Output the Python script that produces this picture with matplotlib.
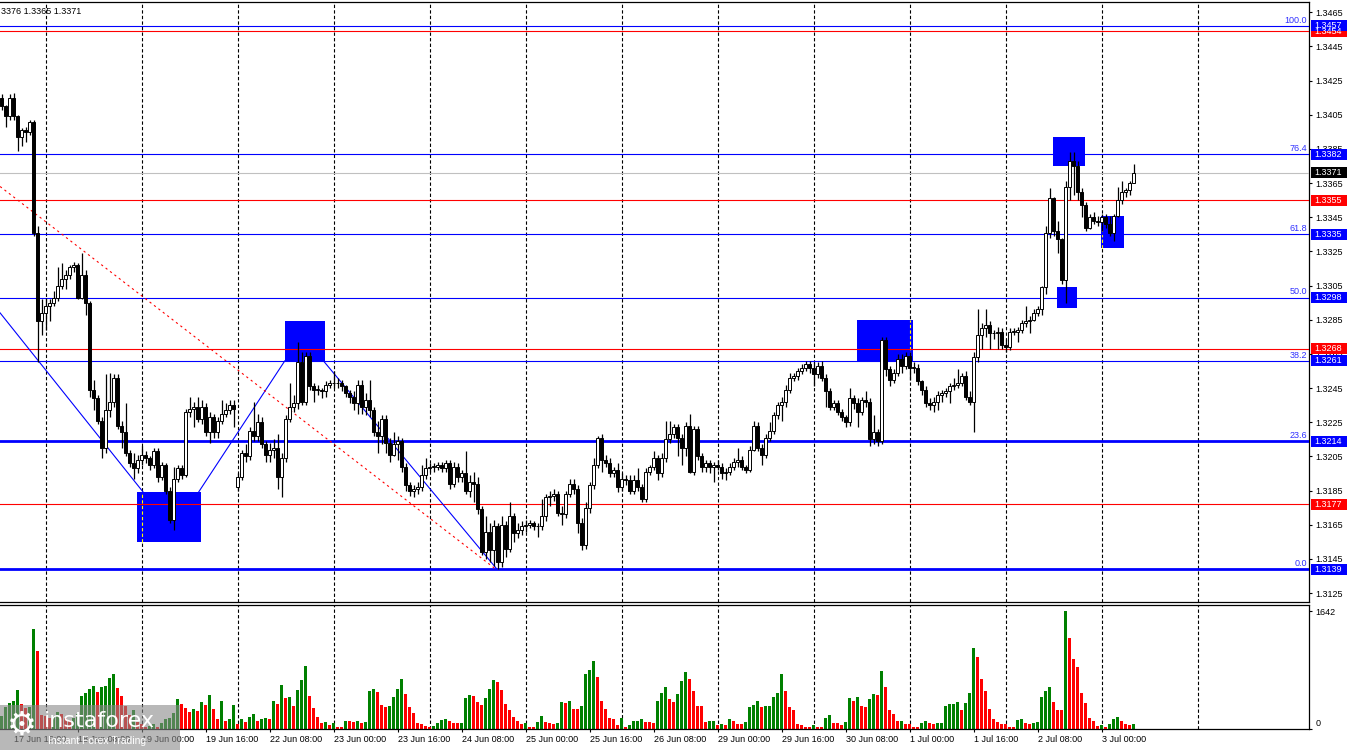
import numpy as np
import matplotlib.pyplot as plt
from matplotlib.patches import Rectangle

plt.rcParams['font.family'] = ['Liberation Sans', 'DejaVu Sans']

# GBP/USD H1, 17 Jun 13:00 .. 3 Jul 07:00 (one value per hourly candle)
first_open = 1.3415
monday_open = 1.3187   # 22 Jun weekend gap (candle 59)

close = [
    1.3410, 1.3404, 1.3415, 1.3404, 1.3392, 1.3396, 1.3395, 1.3401, 1.3336, 1.3284,
    1.3289, 1.3293, 1.3295, 1.3298, 1.3305, 1.3309, 1.3311, 1.3316, 1.3317, 1.3298,
    1.3311, 1.3295, 1.3244, 1.3239, 1.3226, 1.3210, 1.3232, 1.3237, 1.3251, 1.3223,
    1.3219, 1.3207, 1.3201, 1.3198, 1.3203, 1.3206, 1.3204, 1.3200, 1.3208, 1.3193,
    1.3200, 1.3185, 1.3168, 1.3192, 1.3198, 1.3194, 1.3231, 1.3233, 1.3234, 1.3227,
    1.3234, 1.3219, 1.3228, 1.3219, 1.3226, 1.3230, 1.3232, 1.3235, 1.3233, 1.3193,
    1.3207, 1.3205, 1.3220, 1.3217, 1.3225, 1.3212, 1.3206, 1.3209, 1.3210, 1.3193,
    1.3204, 1.3227, 1.3234, 1.3236, 1.3260, 1.3237, 1.3264, 1.3246, 1.3244, 1.3244,
    1.3243, 1.3247, 1.3248, 1.3248, 1.3248, 1.3246, 1.3242, 1.3240, 1.3236, 1.3247,
    1.3234, 1.3238, 1.3232, 1.3219, 1.3217, 1.3227, 1.3213, 1.3206, 1.3212, 1.3214,
    1.3199, 1.3188, 1.3185, 1.3186, 1.3187, 1.3194, 1.3198, 1.3199, 1.3199, 1.3200,
    1.3198, 1.3201, 1.3189, 1.3199, 1.3193, 1.3195, 1.3185, 1.3190, 1.3189, 1.3174,
    1.3149, 1.3161, 1.3150, 1.3164, 1.3143, 1.3165, 1.3151, 1.3170, 1.3160, 1.3162,
    1.3164, 1.3165, 1.3166, 1.3164, 1.3164, 1.3170, 1.3181, 1.3182, 1.3183, 1.3172,
    1.3171, 1.3183, 1.3189, 1.3186, 1.3166, 1.3153, 1.3175, 1.3188, 1.3200, 1.3216,
    1.3203, 1.3201, 1.3195, 1.3197, 1.3187, 1.3192, 1.3191, 1.3185, 1.3191, 1.3187,
    1.3180, 1.3196, 1.3199, 1.3204, 1.3195, 1.3204, 1.3215, 1.3218, 1.3222, 1.3216,
    1.3210, 1.3223, 1.3196, 1.3221, 1.3205, 1.3199, 1.3201, 1.3199, 1.3200, 1.3199,
    1.3195, 1.3196, 1.3199, 1.3202, 1.3203, 1.3199, 1.3197, 1.3209, 1.3223, 1.3210,
    1.3206, 1.3216, 1.3220, 1.3229, 1.3235, 1.3237, 1.3244, 1.3251, 1.3252, 1.3255,
    1.3257, 1.3259, 1.3257, 1.3253, 1.3258, 1.3251, 1.3243, 1.3234, 1.3236, 1.3231,
    1.3228, 1.3225, 1.3239, 1.3236, 1.3231, 1.3238, 1.3237, 1.3215, 1.3219, 1.3214,
    1.3273, 1.3256, 1.3250, 1.3254, 1.3262, 1.3258, 1.3264, 1.3257, 1.3257, 1.3249,
    1.3244, 1.3236, 1.3235, 1.3237, 1.3241, 1.3242, 1.3243, 1.3246, 1.3247, 1.3248,
    1.3252, 1.3240, 1.3237, 1.3263, 1.3276, 1.3280, 1.3282, 1.3277, 1.3277, 1.3278,
    1.3270, 1.3269, 1.3278, 1.3278, 1.3279, 1.3283, 1.3284, 1.3285, 1.3289, 1.3291,
    1.3304, 1.3336, 1.3356, 1.3337, 1.3332, 1.3308, 1.3363, 1.3378, 1.3375, 1.3360,
    1.3352, 1.3339, 1.3345, 1.3343, 1.3342, 1.3345, 1.3341, 1.3336, 1.3346, 1.3355,
    1.3360, 1.3361, 1.3365, 1.3371,
]

high = [
    1.3417, 1.3411, 1.3417, 1.3418, 1.3405, 1.3397, 1.3398, 1.3402, 1.3402, 1.3340,
    1.3297, 1.3298, 1.3297, 1.3302, 1.3316, 1.3318, 1.3314, 1.3317, 1.3319, 1.3318,
    1.3324, 1.3314, 1.3296, 1.3250, 1.3241, 1.3228, 1.3253, 1.3254, 1.3253, 1.3253,
    1.3226, 1.3236, 1.3209, 1.3207, 1.3206, 1.3211, 1.3208, 1.3205, 1.3210, 1.3210,
    1.3202, 1.3201, 1.3187, 1.3199, 1.3200, 1.3200, 1.3233, 1.3240, 1.3237, 1.3240,
    1.3238, 1.3236, 1.3231, 1.3230, 1.3228, 1.3238, 1.3236, 1.3238, 1.3238, 1.3195,
    1.3209, 1.3212, 1.3222, 1.3237, 1.3230, 1.3228, 1.3214, 1.3213, 1.3215, 1.3218,
    1.3207, 1.3229, 1.3248, 1.3241, 1.3272, 1.3266, 1.3266, 1.3266, 1.3248, 1.3247,
    1.3245, 1.3249, 1.3250, 1.3255, 1.3251, 1.3250, 1.3247, 1.3244, 1.3243, 1.3250,
    1.3250, 1.3242, 1.3250, 1.3234, 1.3226, 1.3229, 1.3229, 1.3216, 1.3219, 1.3217,
    1.3216, 1.3201, 1.3190, 1.3188, 1.3190, 1.3200, 1.3204, 1.3201, 1.3201, 1.3202,
    1.3202, 1.3203, 1.3203, 1.3202, 1.3201, 1.3197, 1.3208, 1.3194, 1.3196, 1.3193,
    1.3176, 1.3170, 1.3166, 1.3168, 1.3166, 1.3170, 1.3167, 1.3178, 1.3172, 1.3166,
    1.3167, 1.3168, 1.3168, 1.3167, 1.3166, 1.3180, 1.3183, 1.3185, 1.3186, 1.3185,
    1.3176, 1.3185, 1.3192, 1.3192, 1.3188, 1.3169, 1.3178, 1.3190, 1.3204, 1.3217,
    1.3218, 1.3206, 1.3204, 1.3199, 1.3201, 1.3195, 1.3194, 1.3194, 1.3194, 1.3198,
    1.3189, 1.3198, 1.3200, 1.3208, 1.3206, 1.3207, 1.3226, 1.3226, 1.3224, 1.3224,
    1.3218, 1.3225, 1.3230, 1.3223, 1.3223, 1.3207, 1.3203, 1.3203, 1.3202, 1.3203,
    1.3201, 1.3198, 1.3201, 1.3204, 1.3210, 1.3205, 1.3200, 1.3211, 1.3226, 1.3225,
    1.3212, 1.3218, 1.3225, 1.3231, 1.3237, 1.3240, 1.3247, 1.3254, 1.3254, 1.3257,
    1.3259, 1.3261, 1.3261, 1.3260, 1.3260, 1.3261, 1.3253, 1.3245, 1.3238, 1.3238,
    1.3233, 1.3229, 1.3245, 1.3241, 1.3239, 1.3240, 1.3243, 1.3239, 1.3229, 1.3221,
    1.3275, 1.3275, 1.3258, 1.3256, 1.3265, 1.3265, 1.3266, 1.3266, 1.3260, 1.3259,
    1.3250, 1.3246, 1.3239, 1.3240, 1.3243, 1.3244, 1.3245, 1.3248, 1.3251, 1.3256,
    1.3254, 1.3255, 1.3243, 1.3266, 1.3291, 1.3283, 1.3291, 1.3284, 1.3279, 1.3281,
    1.3280, 1.3274, 1.3280, 1.3280, 1.3281, 1.3285, 1.3293, 1.3287, 1.3291, 1.3293,
    1.3305, 1.3340, 1.3362, 1.3357, 1.3343, 1.3333, 1.3366, 1.3383, 1.3383, 1.3378,
    1.3362, 1.3354, 1.3347, 1.3348, 1.3346, 1.3347, 1.3347, 1.3346, 1.3347, 1.3363,
    1.3366, 1.3362, 1.3366, 1.3376,
]

low = [
    1.3408, 1.3398, 1.3402, 1.3402, 1.3384, 1.3387, 1.3389, 1.3393, 1.3334, 1.3260,
    1.3276, 1.3279, 1.3284, 1.3293, 1.3296, 1.3303, 1.3303, 1.3309, 1.3313, 1.3297,
    1.3297, 1.3288, 1.3240, 1.3232, 1.3224, 1.3204, 1.3207, 1.3228, 1.3234, 1.3221,
    1.3210, 1.3205, 1.3199, 1.3192, 1.3195, 1.3200, 1.3201, 1.3197, 1.3198, 1.3190,
    1.3191, 1.3183, 1.3166, 1.3162, 1.3190, 1.3192, 1.3193, 1.3228, 1.3222, 1.3225,
    1.3224, 1.3217, 1.3213, 1.3216, 1.3216, 1.3224, 1.3228, 1.3230, 1.3222, 1.3185,
    1.3191, 1.3202, 1.3203, 1.3214, 1.3214, 1.3210, 1.3202, 1.3202, 1.3204, 1.3186,
    1.3181, 1.3202, 1.3225, 1.3231, 1.3233, 1.3235, 1.3235, 1.3244, 1.3237, 1.3241,
    1.3239, 1.3240, 1.3245, 1.3245, 1.3245, 1.3243, 1.3240, 1.3236, 1.3232, 1.3230,
    1.3230, 1.3229, 1.3228, 1.3217, 1.3207, 1.3212, 1.3207, 1.3202, 1.3205, 1.3203,
    1.3196, 1.3185, 1.3182, 1.3181, 1.3183, 1.3185, 1.3192, 1.3196, 1.3196, 1.3197,
    1.3196, 1.3196, 1.3186, 1.3187, 1.3190, 1.3190, 1.3183, 1.3181, 1.3178, 1.3171,
    1.3147, 1.3145, 1.3143, 1.3141, 1.3139, 1.3140, 1.3146, 1.3149, 1.3155, 1.3157,
    1.3159, 1.3161, 1.3163, 1.3162, 1.3158, 1.3162, 1.3167, 1.3176, 1.3179, 1.3170,
    1.3165, 1.3169, 1.3181, 1.3183, 1.3160, 1.3150, 1.3151, 1.3172, 1.3186, 1.3198,
    1.3196, 1.3199, 1.3193, 1.3193, 1.3184, 1.3185, 1.3188, 1.3183, 1.3183, 1.3185,
    1.3178, 1.3178, 1.3194, 1.3197, 1.3191, 1.3193, 1.3202, 1.3213, 1.3216, 1.3205,
    1.3200, 1.3205, 1.3195, 1.3194, 1.3203, 1.3196, 1.3196, 1.3195, 1.3190, 1.3197,
    1.3192, 1.3191, 1.3194, 1.3197, 1.3199, 1.3197, 1.3195, 1.3196, 1.3208, 1.3208,
    1.3200, 1.3204, 1.3214, 1.3218, 1.3227, 1.3226, 1.3234, 1.3242, 1.3249, 1.3250,
    1.3253, 1.3255, 1.3254, 1.3246, 1.3251, 1.3249, 1.3234, 1.3232, 1.3232, 1.3229,
    1.3226, 1.3222, 1.3223, 1.3233, 1.3222, 1.3229, 1.3234, 1.3211, 1.3212, 1.3211,
    1.3212, 1.3252, 1.3246, 1.3248, 1.3252, 1.3254, 1.3256, 1.3250, 1.3254, 1.3247,
    1.3241, 1.3234, 1.3232, 1.3231, 1.3232, 1.3237, 1.3240, 1.3236, 1.3244, 1.3245,
    1.3246, 1.3238, 1.3235, 1.3219, 1.3260, 1.3268, 1.3275, 1.3268, 1.3274, 1.3268,
    1.3268, 1.3266, 1.3267, 1.3276, 1.3272, 1.3277, 1.3281, 1.3277, 1.3284, 1.3287,
    1.3288, 1.3300, 1.3333, 1.3334, 1.3324, 1.3306, 1.3295, 1.3355, 1.3358, 1.3355,
    1.3345, 1.3337, 1.3338, 1.3341, 1.3340, 1.3337, 1.3339, 1.3334, 1.3331, 1.3345,
    1.3353, 1.3357, 1.3358, 1.3365,
]

volume = [
    173, 296, 352, 389, 540, 343, 280, 300, 1386, 1080,
    187, 170, 140, 160, 230, 200, 150, 120, 150, 200,
    455, 493, 550, 596, 516, 586, 596, 705, 766, 564,
    455, 314, 187, 258, 89, 66, 19, 28, 66, 19,
    75, 136, 140, 211, 413, 343, 286, 229, 277, 249,
    376, 329, 470, 277, 127, 385, 103, 127, 329, 61,
    127, 89, 164, 197, 98, 127, 141, 136, 385, 343,
    611, 423, 446, 315, 540, 681, 869, 455, 282, 155,
    70, 89, 47, 70, 23, 14, 103, 100, 94, 98,
    80, 89, 531, 550, 513, 329, 305, 320, 446, 550,
    695, 484, 296, 211, 70, 61, 33, 14, 38, 80,
    119, 131, 108, 80, 70, 75, 423, 465, 455, 371,
    329, 423, 550, 681, 644, 540, 343, 258, 160, 103,
    61, 70, 19, 15, 89, 169, 89, 75, 61, 75,
    371, 352, 385, 272, 268, 315, 766, 822, 949, 724,
    390, 272, 146, 136, 47, 146, 14, 47, 103, 108,
    131, 89, 85, 75, 390, 498, 578, 413, 371, 484,
    667, 794, 695, 531, 315, 310, 89, 103, 108, 47,
    61, 47, 131, 103, 61, 56, 89, 301, 329, 385,
    301, 315, 320, 441, 503, 766, 531, 301, 258, 61,
    47, 19, 15, 47, 19, 15, 146, 188, 75, 70,
    47, 89, 428, 385, 441, 310, 296, 413, 484, 470,
    798, 578, 258, 202, 103, 108, 61, 56, 19, 15,
    75, 103, 80, 66, 75, 76, 315, 343, 345, 371,
    258, 357, 498, 1132, 1000, 695, 526, 272, 131, 89,
    61, 60, 19, 15, 113, 131, 75, 61, 75, 89,
    441, 526, 583, 371, 258, 255, 1642, 1264, 968, 855,
    503, 357, 146, 103, 33, 47, 19, 61, 131, 160,
    103, 61, 47, 61,
]

time_labels = ["17 Jun 16:00", "18 Jun 08:00", "19 Jun 00:00", "19 Jun 16:00",
               "22 Jun 08:00", "23 Jun 00:00", "23 Jun 16:00", "24 Jun 08:00",
               "25 Jun 00:00", "25 Jun 16:00", "26 Jun 08:00", "29 Jun 00:00",
               "29 Jun 16:00", "30 Jun 08:00", "1 Jul 00:00", "1 Jul 16:00",
               "2 Jul 08:00", "3 Jul 00:00"]

fib_levels = [1.3457, 1.3382, 1.3335, 1.3298, 1.3261, 1.3214, 1.3139]
fib_names = ["100.0", "76.4", "61.8", "50.0", "38.2", "23.6", "0.0"]
red_levels = [1.3454, 1.3355, 1.3268, 1.3177]
last_price = 1.3371

# zones: (first candle, last candle, price low, price high)
zones = [(33.9, 49.8, 1.3155, 1.3184), (70.8, 80.8, 1.3261, 1.3284),
         (213.9, 227.8, 1.3261, 1.3285), (262.9, 270.8, 1.3375, 1.3392),
         (263.8, 268.8, 1.3292, 1.3304), (274.8, 280.6, 1.3327, 1.3346)]
zigzag = [[(-0.4, 1.3289), (35.4, 1.3184)],
          [(49.2, 1.3184), (70.8, 1.3261)],
          [(80.4, 1.3261), (123.8, 1.3139)]]
channel = [(-0.4, 1.3363), (123.5, 1.3139)]

BLUE, RED = '#0000ff', '#ff0000'
FS = 6.5

n = len(close)
x = np.arange(n)
c = np.array(close)
o = np.array([first_open] + close[:-1])
o[59] = monday_open
h = np.maximum(np.array(high), np.maximum(o, c))
l = np.minimum(np.array(low), np.minimum(o, c))
vol = np.array(volume)

fig = plt.figure(figsize=(13.5, 7.5), dpi=100)
ax = fig.add_axes([0, 1 - 602 / 750, 1309 / 1350, 600 / 750])
axv = fig.add_axes([0, 1 - 728.5 / 750, 1309 / 1350, 123.5 / 750])

xlim = (-0.425, 326.825)
ax.set_xlim(*xlim)
axv.set_xlim(*xlim)
ax.set_ylim(1.311974, 1.347103)
axv.set_ylim(0, 1726)

day_idx = np.arange(11, 300, 24)
for a in (ax, axv):
    y0, y1 = a.get_ylim()
    a.vlines(day_idx, y0, y1, colors='black', linestyles=(0, (3, 2)), lw=0.8, zorder=1)
    a.spines['left'].set_visible(False)
    for s in ('top', 'right', 'bottom'):
        a.spines[s].set_linewidth(0.9)

# zones
for z0, z1, p0, p1 in zones:
    ax.add_patch(Rectangle((z0, p0), z1 - z0, p1 - p0, facecolor=BLUE, edgecolor='none', zorder=2))
    for d in day_idx:
        if z0 < d < z1:
            ax.vlines(d, p0, p1, colors='#ffff00', linestyles=(0, (3, 2)), lw=0.8, zorder=2.5)

# levels
for lv in fib_levels:
    ax.axhline(lv, color=BLUE, lw=2.0 if lv in (1.3214, 1.3139) else 0.8, zorder=3)
for lv in red_levels:
    ax.axhline(lv, color=RED, lw=0.8, zorder=3)
ax.axhline(last_price, color='#c0c0c0', lw=0.8, zorder=3)
for lv, name in zip(fib_levels, fib_names):
    ax.text(326.4, lv + 0.00007, name, ha='right', va='bottom', color='#3030ff',
            fontsize=FS, zorder=6)

for seg in zigzag:
    ax.plot([p[0] for p in seg], [p[1] for p in seg], color=BLUE, lw=0.8, zorder=3)
ax.plot([p[0] for p in channel], [p[1] for p in channel], color=RED, lw=0.8,
        linestyle=(0, (2, 3)), zorder=3)

# candles
up = c >= o
ax.vlines(x, l, h, colors='black', lw=0.9, zorder=4)
ax.bar(x, np.maximum(np.abs(c - o), 0.00002), bottom=np.minimum(o, c), width=0.75,
       color=np.where(up, 'white', 'black'), edgecolor='black', linewidth=0.7, zorder=5)

# volumes
vcol = ['#008000' if i == 0 or vol[i] > vol[i - 1] else RED for i in range(n)]
axv.bar(x, vol, width=0.75, color=vcol, zorder=2)

# axes ticks
ax.set_xticks([])
ax.yaxis.tick_right()
ax.set_yticks(np.arange(1.3125, 1.3466, 0.002))
ax.set_yticklabels([f'{v:.4f}' for v in np.arange(1.3125, 1.3466, 0.002)])
ax.tick_params(axis='y', length=2.5, width=0.8, pad=2, labelsize=FS)

axv.yaxis.tick_right()
axv.set_yticks([0, 1642])
axv.set_yticklabels(['0', '1642'])
axv.tick_params(axis='y', length=2.5, width=0.8, pad=2, labelsize=FS)
axv.get_yticklabels()[0].set_va('bottom')
axv.set_xticks(3 + 16 * np.arange(len(time_labels)))
axv.set_xticklabels(time_labels, ha='left')
axv.tick_params(axis='x', length=2.5, width=0.8, pad=2, labelsize=FS)

# price boxes on the right axis
W, H = 1350, 750


def price_box(p, color):
    yp = ax.transData.transform((0, p))[1]
    fig.add_artist(Rectangle((1311 / W, (yp - 5.5) / H), 36 / W, 11 / H,
                             transform=fig.transFigure, facecolor=color, edgecolor='none'))
    fig.text(1314 / W, yp / H, f'{p:.4f}', color='white', fontsize=FS, va='center', ha='left')


for p in red_levels:
    price_box(p, RED)
for p in fib_levels:
    price_box(p, BLUE)
price_box(last_price, 'black')

fig.text(1 / W, 1 - 11 / H, '3376 1.3365 1.3371', fontsize=FS, va='center', ha='left')

# watermark
fig.add_artist(Rectangle((0, 0), 180 / W, 45 / H, transform=fig.transFigure,
                         facecolor='#8a8a8a', alpha=0.6, edgecolor='none', zorder=10))
fig.text(22 / W, 1 - 725 / H, '\u2699', color='white', fontsize=24, ha='center',
         va='center', family='DejaVu Sans', zorder=11)
fig.text(44 / W, 1 - 721 / H, 'instaforex', color='white', fontsize=16, ha='left',
         va='center', family='DejaVu Sans', zorder=11)
fig.text(48 / W, 1 - 741 / H, 'Instant Forex Trading', color='white', fontsize=7.5,
         ha='left', va='center', zorder=11)

fig.savefig('out.png', dpi=100)
